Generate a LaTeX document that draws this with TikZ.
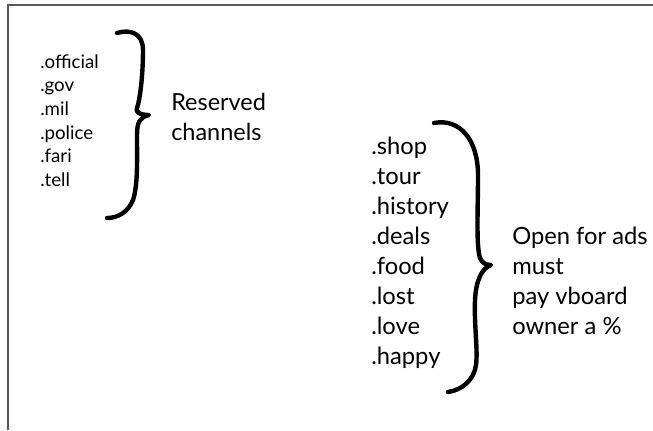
\documentclass[tikz,border=0pt]{standalone}
\usepackage{fontspec}
\setmainfont{Lato}
\begin{document}
\begin{tikzpicture}[x=0.75pt,y=-0.75pt,
  frame/.style={draw=black!65, line width=1.3pt},
  brace/.style={draw=black, line width=3.3pt, line cap=round, line join=round},
  small/.style={anchor=base west, inner sep=0pt, font=\fontsize{14pt}{16pt}\selectfont},
  mid/.style={anchor=base west, inner sep=0pt, font=\fontsize{17.6pt}{18pt}\selectfont},
  big/.style={anchor=base west, inner sep=0pt, font=\fontsize{17.8pt}{18pt}\selectfont}]
\useasboundingbox (0,0) rectangle (653,430);
\fill[white] (0,0) rectangle (653,430);
\draw[frame] (8,430) -- (8,5) -- (653,5);
% left list
\node[small] (a1) at (40,68) {.official};
\node[small] (a2) at (40,91.7) {.gov};
\node[small] (a3) at (40,115.4) {.mil};
\node[small] (a4) at (40,139.1) {.police};
\node[small] (a5) at (40,162.8) {.fari};
\node[small] (a6) at (40,186.5) {.tell};
% left brace
\draw[brace] (117,33) .. controls (130,29) and (143,33) .. (143,50)
  .. controls (143,75) and (140,100) .. (137,108)
  .. controls (135,112) and (140,115) .. (149,115)
  .. controls (140,117) and (137,122) .. (137,135)
  .. controls (137,160) and (138,185) .. (133,200)
  .. controls (128,212) and (118,218) .. (107,218);
\node[mid] (r1) at (171,110) {Reserved};
\node[mid] (r2) at (171,140) {channels};
% right list
\node[big] (b1) at (371,154) {.shop};
\node[big] (b2) at (371,184) {.tour};
\node[big] (b3) at (371,214) {.history};
\node[big] (b4) at (371,244) {.deals};
\node[big] (b5) at (371,274) {.food};
\node[big] (b6) at (371,304) {.lost};
\node[big] (b7) at (371,334) {.love};
\node[big] (b8) at (371,364) {.happy};
% right brace
\draw[brace] (434,123) .. controls (460,118) and (478,140) .. (478,175)
  .. controls (478,210) and (476,245) .. (480,258)
  .. controls (482,263) and (486,265) .. (491,265)
  .. controls (482,268) and (476,280) .. (475,300)
  .. controls (474,325) and (478,350) .. (476,365)
  .. controls (474,380) and (462,390) .. (448,392);
\node[big] (c1) at (512,244) {Open for ads};
\node[big] (c2) at (512,274) {must};
\node[big] (c3) at (512,304) {pay vboard};
\node[big] (c4) at (512,334) {owner a \%};
\end{tikzpicture}
\end{document}
